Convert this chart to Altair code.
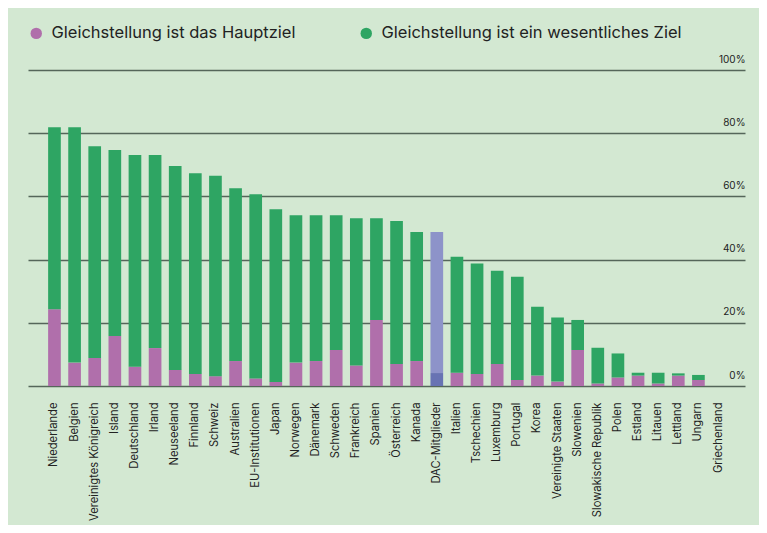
import altair as alt
import pandas as pd

laender = [
    "Niederlande", "Belgien", "Vereinigtes Königreich", "Island", "Deutschland",
    "Irland", "Neuseeland", "Finnland", "Schweiz", "Australien",
    "EU-Institutionen", "Japan", "Norwegen", "Dänemark", "Schweden",
    "Frankreich", "Spanien", "Österreich", "Kanada", "DAC-Mitglieder",
    "Italien", "Tschechien", "Luxemburg", "Portugal", "Korea",
    "Vereinigte Staaten", "Slowenien", "Slowakische Republik", "Polen", "Estland",
    "Litauen", "Lettland", "Ungarn", "Griechenland",
]
# Anteil mit Gleichstellung als Hauptziel (%)
hauptziel = [
    24.3, 7.4, 8.9, 15.8, 6.1,
    12.0, 5.1, 3.8, 3.1, 7.9,
    2.4, 1.3, 7.4, 7.9, 11.4,
    6.5, 20.9, 7.0, 7.9, 4.1,
    4.2, 3.8, 7.0, 1.9, 3.3,
    1.4, 11.4, 0.8, 2.7, 3.3,
    0.8, 3.3, 1.9, 0.0,
]
# Anteil mit Gleichstellung als wesentliches Ziel (%)
wesentlich = [
    57.6, 74.5, 67.0, 58.9, 67.0,
    61.1, 64.5, 63.5, 63.4, 54.7,
    58.3, 54.6, 46.6, 46.1, 42.6,
    46.6, 32.2, 45.2, 40.8, 44.6,
    36.7, 35.0, 29.5, 32.7, 21.8,
    20.3, 9.5, 11.3, 7.6, 0.9,
    3.4, 0.7, 1.6, 0.0,
]
y_ticks = [0, 20, 40, 60, 80, 100]

LEG1 = "Gleichstellung ist das Hauptziel"
LEG2 = "Gleichstellung ist ein wesentliches Ziel"
DAC = "DAC-Mitglieder"

rows = []
for land, h, w in zip(laender, hauptziel, wesentlich):
    is_dac = land == DAC
    rows.append({"Land": land, "Wert": h, "Ziel": "DAC Hauptziel" if is_dac else LEG1, "ord": 0})
    rows.append({"Land": land, "Wert": w, "Ziel": "DAC wesentlich" if is_dac else LEG2, "ord": 1})
df = pd.DataFrame(rows)

FONT = "Inter"

chart = alt.Chart(df).mark_bar().encode(
    x=alt.X("Land:N", sort=laender, title=None,
            scale=alt.Scale(paddingInner=0.37, paddingOuter=1.0),
            axis=alt.Axis(labelAngle=-90, labelAlign="right", labelBaseline="middle",
                          labelPadding=16, domain=False, ticks=False,
                          labelFontSize=11.2, labelColor="#222222", labelFont=FONT)),
    y=alt.Y("Wert:Q", stack="zero", title=None,
            scale=alt.Scale(domain=[0, 100], nice=False),
            axis=alt.Axis(orient="right", values=y_ticks, grid=True,
                          gridColor="#55665a", gridWidth=1.3, domain=False, ticks=False,
                          labelAlign="right", labelPadding=0, labelBaseline="bottom",
                          labelOffset=-6, labelFontSize=10, labelColor="#222222",
                          labelFont=FONT, labelExpr="datum.value + '%'")),
    color=alt.Color("Ziel:N",
                    scale=alt.Scale(domain=[LEG1, LEG2, "DAC Hauptziel", "DAC wesentlich"],
                                    range=["#b06fab", "#2ea563", "#6873b3", "#8d93c9"]),
                    legend=alt.Legend(values=[LEG1, LEG2], orient="none", legendX=0,
                                      legendY=-45, direction="horizontal", title=None,
                                      symbolType="circle", symbolSize=130,
                                      symbolStrokeWidth=0, labelFontSize=16.5,
                                      labelFont=FONT, labelColor="#222222",
                                      labelOffset=7, columnPadding=62, labelLimit=450)),
    order=alt.Order("ord:Q", sort="ascending"),
).properties(
    width=717, height=316,
    autosize=alt.AutoSizeParams(type="none"),
    padding={"left": 20, "top": 62, "right": 14, "bottom": 139},
    background="#d3e8d2",
).configure_view(stroke=None)

chart.save("out.html", embed_options={"renderer": "svg", "actions": False})
